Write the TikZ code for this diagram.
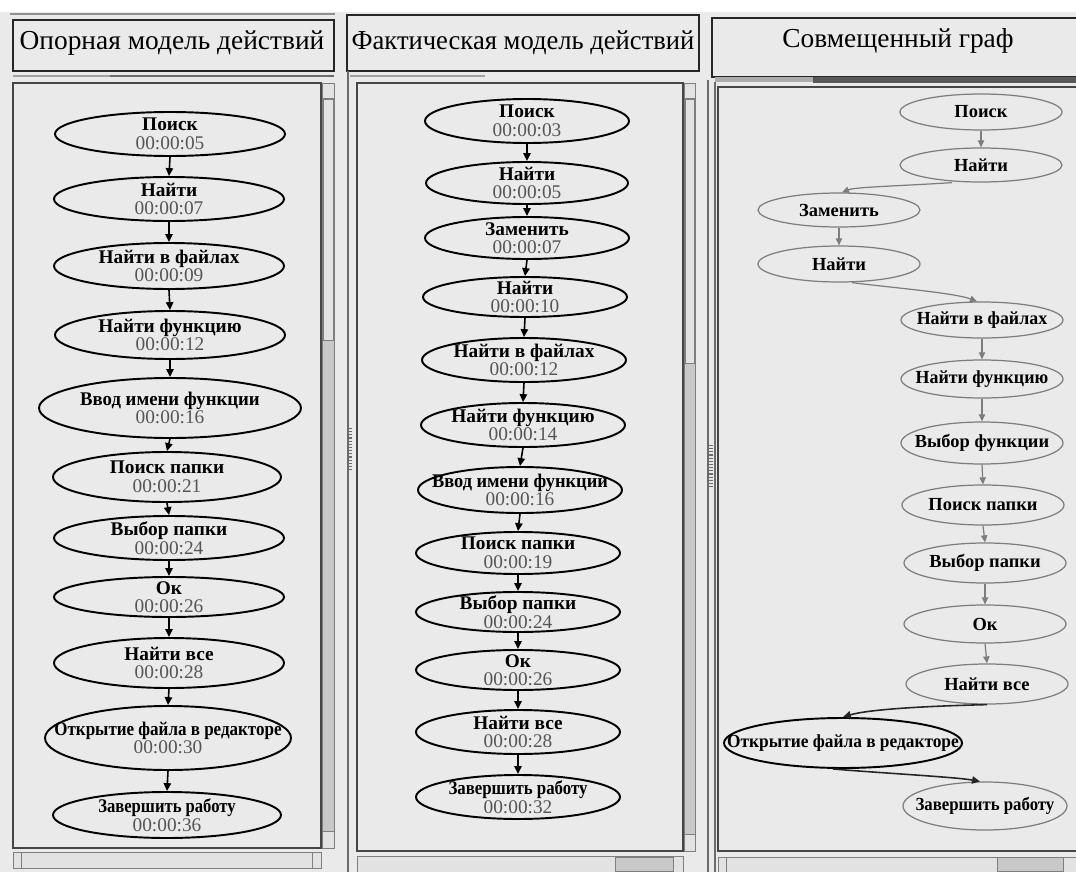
\documentclass[tikz,border=0pt]{standalone}
\usepackage{fontspec}
\setmainfont{Liberation Serif}
\usetikzlibrary{shapes.geometric,arrows.meta}
\definecolor{bgc}{RGB}{234,234,234}
\definecolor{frmc}{RGB}{70,70,70}
\definecolor{trk}{RGB}{200,200,200}
\definecolor{thumbc}{RGB}{226,226,226}
\definecolor{tcol}{RGB}{85,85,85}
\definecolor{edgec}{RGB}{125,125,125}
\tikzset{
  ov/.style 2 args={ellipse, draw=black, line width=1.1pt, inner sep=0pt,
    minimum width={2*#1*0.02cm}, minimum height={2*#2*0.02cm}},
  ovg/.style 2 args={ellipse, draw=edgec, line width=0.7pt, inner sep=0pt,
    minimum width={2*#1*0.02cm}, minimum height={2*#2*0.02cm}},
  lab/.style={align=center, inner sep=0pt, font=\fontsize{11}{10.5}\selectfont},
  labg/.style={inner sep=0pt, font=\fontsize{10.5}{12}\selectfont\bfseries},
  arr/.style={draw=black, line width=0.9pt, -{Triangle[length=4.5pt,width=4.2pt]}},
  garr/.style={draw=edgec, line width=0.7pt, -{Triangle[length=4pt,width=3.6pt]}},
  barr/.style={draw=black!85, line width=0.9pt, -{Triangle[length=4.5pt,width=4.2pt]}},
  tbox/.style={draw=black!85, line width=1.1pt},
  frm/.style={draw=frmc, line width=0.9pt},
  track/.style={fill=trk, draw=frmc!70, line width=0.5pt},
  knob/.style={fill=thumbc, draw=frmc!70, line width=0.5pt},
  title/.style={inner sep=0pt, anchor=base, font=\fontsize{15.6}{18}\selectfont},
  grip/.style={draw=frmc!80, line width=2.2pt, dash pattern=on 0.6pt off 1.2pt},
}
% one step of a sequence: ellipse with action name and time stamp
% optional argument: horizontal squeeze of the action name
\newcommand\actnode[7][1]{%
  \node[ov={#5}{#6}] (#2) at (#3,#4) {};
  \node[lab] (#2t) at (#2) {\scalebox{#1}[1]{\textbf{#7}}\\{\color{tcol}\actime}};}
% time stamp is passed through \actime so the macro keeps its arity small
\newcommand\actime{}
\newcommand\act[8][1]{\renewcommand\actime{#8}\actnode[#1]{#2}{#3}{#4}{#5}{#6}{#7}}
% one step of the merged graph: ellipse with action name only
\newcommand\mergenode[7][1]{%
  \node[ovg={#5}{#6}] (#2) at (#3,#4) {};
  \node[labg] (#2t) at (#2) {\scalebox{#1}[1]{#7}};}
\begin{document}
\begin{tikzpicture}[x=0.02cm,y=-0.02cm]
\useasboundingbox (0,0) rectangle (1076,872);
\fill[white] (0,0) rectangle (1076,872);
\fill[bgc] (0,12) rectangle (1076,872);

% ---------- left window: reference model ----------
\draw[frmc!60, line width=0.8pt] (10,14) -- (335,14);
\draw[tbox] (13,20) rectangle (334,71);
\node[title] (t1) at (172,50) {Опорная модель действий};
\draw[frmc!50, line width=1pt] (13,76) -- (110,76);
\draw[frmc!80, line width=1pt] (110,76) -- (334,76);
\draw[frm] (13,83) rectangle (321,848);
\draw[track] (322,83) rectangle (334,848);
\draw[knob] (323,99) rectangle (333,340);
\draw[knob] (322,83) rectangle (334,98);
\draw[knob] (322,831) rectangle (334,848);
\draw[knob] (13,852) rectangle (321,868);
\draw[knob] (13,852) rectangle (21,868);
\draw[knob] (312,852) rectangle (321,868);

\act{a1}{170}{134}{115}{22}{Поиск}{00:00:05}
\act{a2}{169}{199}{115}{22}{Найти}{00:00:07}
\act{a3}{169}{266}{115}{23}{Найти в файлах}{00:00:09}
\act{a4}{170}{335}{115}{24}{Найти функцию}{00:00:12}
\act[0.97]{a5}{170}{408}{131}{30}{Ввод имени функции}{00:00:16}
\act{a6}{167}{477}{114}{25}{Поиск папки}{00:00:21}
\act{a7}{169}{538}{115}{22}{Выбор папки}{00:00:24}
\act{a8}{169}{597}{115}{20}{Ок}{00:00:26}
\act{a9}{169}{663}{115}{25}{Найти все}{00:00:28}
\act[0.88]{a10}{168}{738}{123}{32}{Открытие файла в редакторе}{00:00:30}
\act[0.86]{a11}{167}{815}{114}{23}{Завершить работу}{00:00:36}
\foreach \u/\v in {a1/a2,a2/a3,a3/a4,a4/a5,a5/a6,a6/a7,a7/a8,a8/a9,a9/a10,a10/a11}
  \draw[arr] (\u.south) -- (\v.north);

% ---------- middle window: actual model ----------
\draw[tbox] (347,15) rectangle (699,71);
\node[title] (t2) at (523,50) {\scalebox{0.97}[1]{Фактическая модель действий}};
\draw[frmc!80, line width=0.9pt] (348,71) -- (348,872);
\draw[frmc!50, line width=1pt] (350,76) -- (485,76);
\draw[frm] (357,83) rectangle (683,851);
\draw[track] (684,83) rectangle (695,851);
\draw[knob] (685,99) rectangle (694,363);
\draw[knob] (684,83) rectangle (695,98);
\draw[knob] (684,834) rectangle (695,851);
\draw[knob] (357,856) rectangle (683,872);
\draw[track] (615,857) rectangle (673,871);
\draw[grip] (350,428) -- (350,470);

\act{b1}{527}{121}{102}{22}{Поиск}{00:00:03}
\act{b2}{527}{183}{101}{21}{Найти}{00:00:05}
\act{b3}{527}{238}{102}{21}{Заменить}{00:00:07}
\act{b4}{525}{297}{102}{20}{Найти}{00:00:10}
\act{b5}{524}{360}{102}{22}{Найти в файлах}{00:00:12}
\act{b6}{523}{425}{102}{22}{Найти функцию}{00:00:14}
\act[0.95]{b7}{520}{490}{102}{23}{Ввод имени функции}{00:00:16}
\act{b8}{518}{553}{102}{21}{Поиск папки}{00:00:19}
\act{b9}{518}{612}{102}{20}{Выбор папки}{00:00:24}
\act{b10}{518}{670}{102}{20}{Ок}{00:00:26}
\act{b11}{518}{732}{102}{22}{Найти все}{00:00:28}
\act[0.87]{b12}{518}{797}{102}{22}{Завершить работу}{00:00:32}
\foreach \u/\v in {b1/b2,b2/b3,b3/b4,b4/b5,b5/b6,b6/b7,b7/b8,b8/b9,b9/b10,b10/b11,b11/b12}
  \draw[arr] (\u.south) -- (\v.north);

% ---------- right window: merged graph ----------
\draw[tbox] (1076,18) -- (712,18) -- (712,77) -- (1076,77);
\node[title] (t3) at (898,48) {Совмещенный граф};
\fill[frmc!45] (715,77) rectangle (813,82);
\fill[frmc!90] (813,77) rectangle (1076,83);
\draw[frmc!80, line width=0.9pt] (708,80) -- (708,872);
\draw[frmc!80, line width=0.9pt] (715,82) -- (715,872);
\draw[frm] (1080,87) -- (718,87) -- (718,851) -- (1080,851);
\draw[knob] (718,857) rectangle (1080,872);
\draw[track] (997,857) rectangle (1063,871);
\draw[knob] (718,857) rectangle (726,872);
\draw[grip] (711,445) -- (711,487);

\mergenode{c1}{981}{112}{81}{18}{Поиск}
\mergenode{c2}{981}{165}{81}{17}{Найти}
\mergenode{c3}{839}{210}{81}{17}{Заменить}
\mergenode{c4}{839}{264}{81}{18}{Найти}
\mergenode[0.97]{c5}{982}{320}{81}{18}{Найти в файлах}
\mergenode[0.97]{c6}{982}{379}{81}{19}{Найти функцию}
\mergenode{c7}{982}{443}{81}{21}{Выбор функции}
\mergenode{c8}{983}{505}{81}{20}{Поиск папки}
\mergenode{c9}{985}{563}{81}{20}{Выбор папки}
\mergenode{c10}{985}{624}{81}{19}{Ок}
\mergenode{c11}{987}{684}{81}{20}{Найти все}
\node[ov={119}{25}] (c12) at (843,743) {};
\node[labg] (c12t) at (c12) {\scalebox{0.94}[1]{Открытие файла в редакторе}};
\mergenode[0.91]{c13}{985}{806}{82}{24}{Завершить работу}

\draw[garr] (c1.south) -- (c2.north);
\draw[garr] ([xshift=-0.58cm]c2.south) .. controls (900,186) and (855,187) .. ([xshift=0.06cm]c3.north);
\draw[garr] (c3.south) -- (c4.north);
\draw[garr] ([xshift=0.26cm]c4.south) .. controls (895,288) and (955,293) .. ([xshift=-0.1cm]c5.north);
\foreach \u/\v in {c5/c6,c6/c7,c7/c8,c8/c9,c9/c10,c10/c11}
  \draw[garr] (\u.south) -- (\v.north);
\draw[barr] (c11.south) .. controls (930,706) and (870,709) .. (c12.north);
\draw[barr] ([xshift=-0.2cm]c12.south) .. controls (880,773) and (955,777) .. ([xshift=-0.1cm]c13.north);
\end{tikzpicture}
\end{document}
